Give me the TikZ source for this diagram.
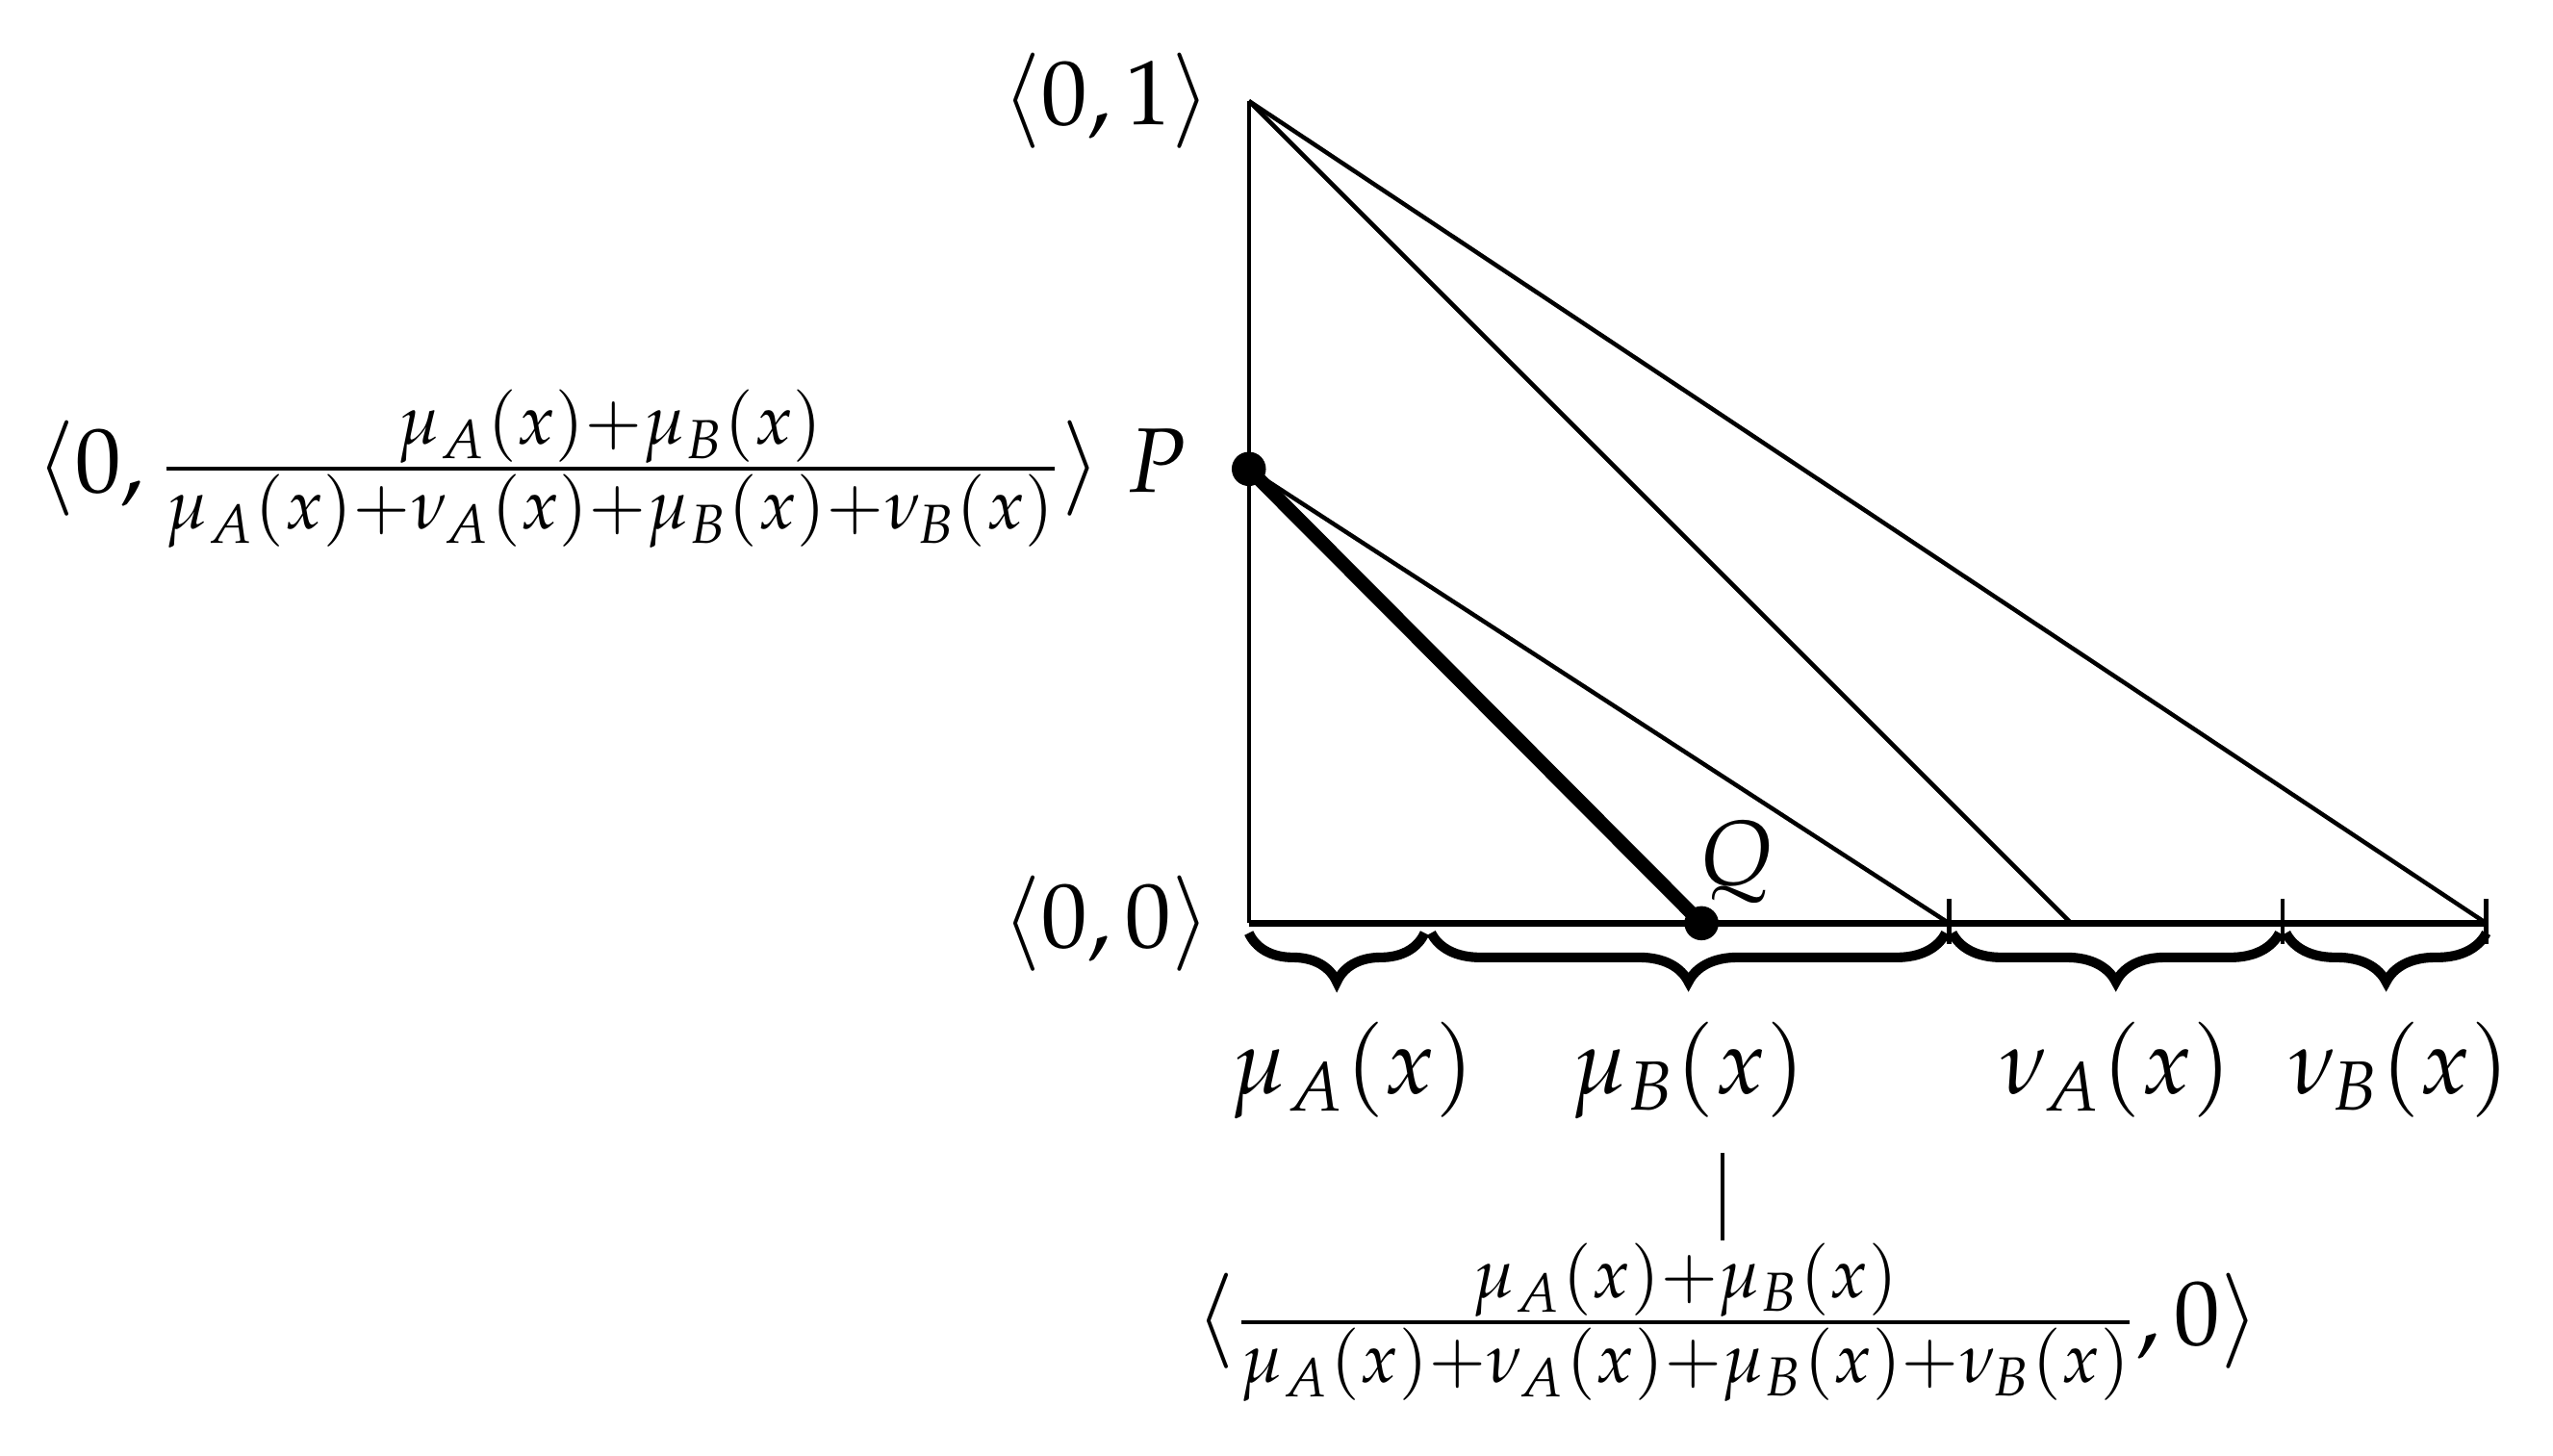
\documentclass[tikz,border=0pt]{standalone}
\usepackage{amsmath}
\usepackage{mathpazo}
\usetikzlibrary{decorations.pathreplacing, positioning}

\begin{document}
\begin{tikzpicture}[font=\fontsize{16}{19}\selectfont,
    thinline/.style={line width=0.75pt},
    bracedown/.style={decorate, decoration={brace, mirror, amplitude=0.3cm}, line width=1.7pt},
    dot/.style={circle, fill, inner sep=0pt, minimum size=0.21cm}]
    \useasboundingbox (0,0) rectangle (15.68,8.94);
    % Corner points
    \coordinate (O) at (7.67,3.27);
    \coordinate (T) at (7.67,8.32);
    \coordinate (P) at (7.67,6.06);
    \coordinate (Q) at (10.45,3.27);
    \coordinate (a) at (8.77,3.27);
    \coordinate (b) at (11.97,3.27);
    \coordinate (m) at (12.72,3.27);
    \coordinate (c) at (14.02,3.27);
    \coordinate (e) at (15.27,3.27);
    % Axes
    \draw[thinline] (T) -- (O);
    \draw[line width=1.2pt] (O) -- (e);
    % Slanted lines
    \draw[thinline] (T) -- (e);
    \draw[thinline] (T) -- (m);
    \draw[thinline] (P) -- (b);
    \draw[line width=2.4pt] (P) -- (Q);
    \node[dot] (dP) at (P) {};
    \node[dot] (dQ) at (Q) {};
    % Ticks
    \foreach \t in {b,c,e} \draw[thinline] ([yshift=0.15cm]\t) -- ([yshift=-0.13cm]\t);
    % Braces
    \draw[bracedown] ([yshift=-0.06cm]O) -- ([xshift=-0.02cm,yshift=-0.06cm]a)
        node[midway, below=0.4cm, xshift=0.1cm] (lmuA) {$\mu_A(x)$};
    \draw[bracedown] ([xshift=0.02cm,yshift=-0.06cm]a) -- ([xshift=-0.02cm,yshift=-0.06cm]b)
        node[midway, below=0.4cm] (lmuB) {$\mu_B(x)$};
    \draw[bracedown] ([xshift=0.02cm,yshift=-0.06cm]b) -- ([xshift=-0.02cm,yshift=-0.06cm]c)
        node[midway, below=0.4cm] (lnuA) {$\nu_A(x)$};
    \draw[bracedown] ([xshift=0.02cm,yshift=-0.06cm]c) -- ([yshift=-0.06cm]e)
        node[midway, below=0.4cm, xshift=0.08cm] (lnuB) {$\nu_B(x)$};
    % Labels
    \node[left=0.11cm of T] (l01) {$\langle 0,1\rangle$};
    \node[left=0.11cm of O] (l00) {$\langle 0,0\rangle$};
    \node[left=0.26cm of P] (lP) {$\langle 0,\frac{\mu_A(x)+\mu_B(x)}{\mu_A(x)+\nu_A(x)+\mu_B(x)+\nu_B(x)}\rangle\;P$};
    \node[anchor=south west] (lQ) at ([xshift=-0.14cm]Q) {$Q$};
    \node (lval) at (10.61,0.82) {$\langle\frac{\mu_A(x)+\mu_B(x)}{\mu_A(x)+\nu_A(x)+\mu_B(x)+\nu_B(x)},0\rangle$};
    \coordinate (tk1) at (10.58,1.86);
    \coordinate (tk2) at (10.58,1.32);
    \draw[thinline] (tk1) -- (tk2);
\end{tikzpicture}
\end{document}
